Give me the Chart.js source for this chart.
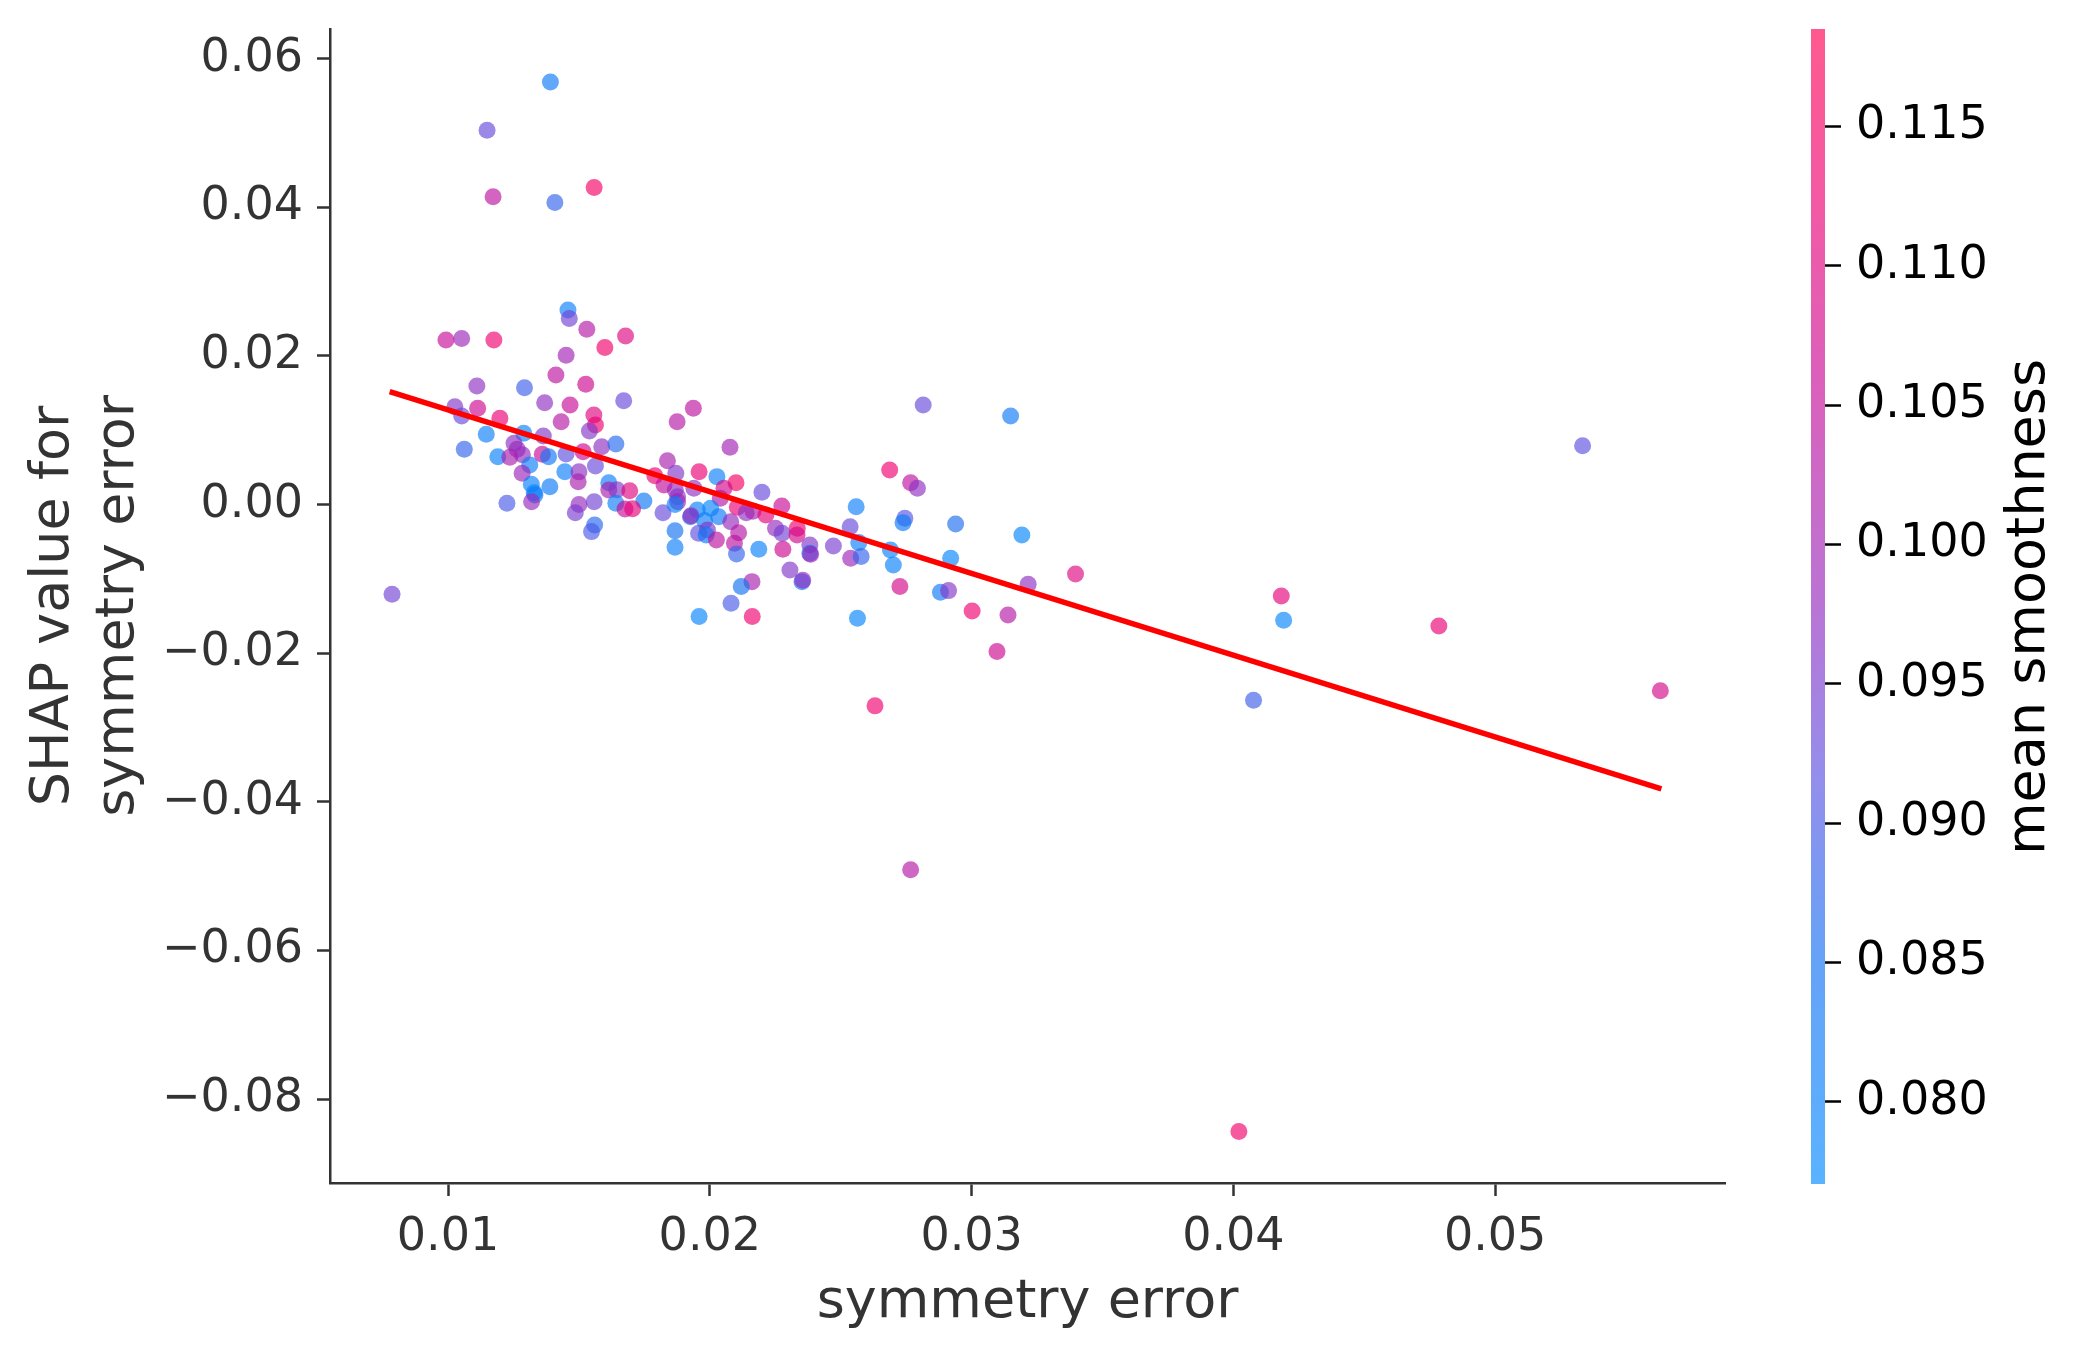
<!DOCTYPE html>
<html>
<head>
<meta charset="utf-8">
<script src="https://cdn.jsdelivr.net/npm/chart.js@4.4.1/dist/chart.umd.min.js"></script>
<style>
html, body { margin: 0; padding: 0; background: #fff; }
#wrap { position: relative; width: 2084px; height: 1357px; }
#main { position: absolute; left: 0; top: 0; }
#cbar { position: absolute; left: 1760px; top: 0; }
</style>
</head>
<body>
<div id="wrap">
  <canvas id="main" width="2084" height="1357"></canvas>
  <canvas id="cbar" width="324" height="1357"></canvas>
</div>
<script>
// symmetry error (feature value)
var symErr = [
  0.01458, 0.01463, 0.01530, 0.01678, 0.01599, 0.00992, 0.01052, 0.01175, 0.01451, 0.01412,
  0.01526, 0.01110, 0.01292, 0.01369, 0.01466, 0.01671, 0.01432, 0.01557, 0.01563, 0.01540,
  0.01026, 0.01052, 0.01113, 0.01198, 0.01146, 0.01289, 0.01364, 0.01062, 0.01190, 0.01252,
  0.01264, 0.01284, 0.01236, 0.01312, 0.01283, 0.01360, 0.01384, 0.01451, 0.01516, 0.01587,
  0.01641, 0.01446, 0.01500, 0.01497, 0.01563, 0.01318, 0.01389, 0.01329, 0.01332, 0.01319,
  0.01225, 0.01614, 0.01614, 0.01645, 0.01694, 0.01641, 0.01748, 0.01676, 0.01705, 0.01500,
  0.01486, 0.01558, 0.01560, 0.01548, 0.00786, 0.01838, 0.01790, 0.01870, 0.01825, 0.01868,
  0.01877, 0.01821, 0.01877, 0.01867, 0.01937, 0.01875, 0.02077, 0.01959, 0.02027, 0.02100,
  0.02054, 0.01939, 0.02040, 0.02199, 0.02105, 0.02139, 0.02165, 0.02214, 0.02275, 0.01952,
  0.02003, 0.01926, 0.01928, 0.01980, 0.02034, 0.01991, 0.01957, 0.01986, 0.01867, 0.01867,
  0.02025, 0.02080, 0.02110, 0.02094, 0.02102, 0.02187, 0.02251, 0.02276, 0.02279, 0.02334,
  0.02333, 0.02382, 0.02382, 0.02385, 0.02306, 0.02352, 0.02355, 0.02161, 0.02120, 0.02081,
  0.01959, 0.02162, 0.02472, 0.02536, 0.02559, 0.02569, 0.02538, 0.02578, 0.02564, 0.02687,
  0.02767, 0.02793, 0.02815, 0.02745, 0.02738, 0.02690, 0.02701, 0.02726, 0.02939, 0.02920,
  0.02881, 0.02912, 0.03002, 0.03139, 0.03097, 0.03149, 0.03192, 0.02631, 0.01391, 0.01149,
  0.01172, 0.01408, 0.01558, 0.05334, 0.03397, 0.03216, 0.04183, 0.04192, 0.04785, 0.04077,
  0.05631, 0.04021, 0.02767
];
// SHAP value for symmetry error
var shapVal = [
  0.02617, 0.02505, 0.02360, 0.02268, 0.02115, 0.02214, 0.02236, 0.02214, 0.02010, 0.01743,
  0.01618, 0.01595, 0.01572, 0.01370, 0.01340, 0.01398, 0.01115, 0.01205, 0.01071, 0.00990,
  0.01317, 0.01192, 0.01295, 0.01160, 0.00945, 0.00959, 0.00923, 0.00744, 0.00645, 0.00824,
  0.00744, 0.00670, 0.00636, 0.00533, 0.00421, 0.00676, 0.00645, 0.00680, 0.00712, 0.00779,
  0.00815, 0.00443, 0.00440, 0.00308, 0.00520, 0.00273, 0.00241, 0.00160, 0.00130, 0.00039,
  0.00017, 0.00295, 0.00196, 0.00200, 0.00187, 0.00017, 0.00048, -0.00059, -0.00055, 0.00000,
  -0.00109, 0.00039, -0.00274, -0.00364, -0.01207, 0.00590, 0.00389, 0.00421, 0.00264, 0.00196,
  0.00106, -0.00109, 0.00039, 0.00000, 0.01295, 0.01115, 0.00770, 0.00443, 0.00376, 0.00295,
  0.00220, 0.00220, 0.00085, 0.00165, -0.00036, -0.00109, -0.00090, -0.00140, -0.00020, -0.00073,
  -0.00050, -0.00163, -0.00150, -0.00216, -0.00163, -0.00342, -0.00386, -0.00409, -0.00351, -0.00575,
  -0.00476, -0.00230, -0.00378, -0.00521, -0.00664, -0.00601, -0.00319, -0.00386, -0.00601, -0.00319,
  -0.00409, -0.00543, -0.00655, -0.00670, -0.00880, -0.01037, -0.01020, -0.01037, -0.01104, -0.01328,
  -0.01507, -0.01507, -0.00557, -0.00297, -0.00028, -0.00512, -0.00722, -0.00700, -0.01530, 0.00465,
  0.00295, 0.00220, 0.01340, -0.00184, -0.00243, -0.00610, -0.00812, -0.01104, -0.00261, -0.00722,
  -0.01180, -0.01158, -0.01431, -0.01485, -0.01978, 0.01192, -0.00411, -0.02709, 0.05688, 0.05038,
  0.04141, 0.04066, 0.04267, 0.00793, -0.00933, -0.01072, -0.01229, -0.01557, -0.01633, -0.02632,
  -0.02507, -0.08438, -0.04915
];
// mean smoothness (colour)
var smooth = [
  0.081, 0.094, 0.103, 0.110, 0.114, 0.106, 0.099, 0.113, 0.100, 0.104,
  0.107, 0.097, 0.089, 0.097, 0.106, 0.093, 0.103, 0.110, 0.113, 0.096,
  0.096, 0.093, 0.107, 0.112, 0.081, 0.080, 0.096, 0.088, 0.080, 0.097,
  0.098, 0.098, 0.101, 0.081, 0.099, 0.106, 0.083, 0.092, 0.107, 0.097,
  0.087, 0.081, 0.097, 0.101, 0.093, 0.080, 0.082, 0.079, 0.082, 0.098,
  0.090, 0.081, 0.101, 0.096, 0.110, 0.081, 0.083, 0.106, 0.111, 0.098,
  0.095, 0.094, 0.087, 0.090, 0.094, 0.101, 0.112, 0.096, 0.105, 0.099,
  0.096, 0.093, 0.100, 0.081, 0.104, 0.103, 0.100, 0.112, 0.081, 0.115,
  0.108, 0.097, 0.103, 0.093, 0.112, 0.097, 0.101, 0.111, 0.106, 0.080,
  0.079, 0.082, 0.099, 0.081, 0.082, 0.096, 0.092, 0.083, 0.085, 0.081,
  0.104, 0.098, 0.103, 0.104, 0.088, 0.080, 0.098, 0.094, 0.107, 0.113,
  0.108, 0.096, 0.082, 0.100, 0.096, 0.081, 0.098, 0.101, 0.085, 0.090,
  0.079, 0.113, 0.095, 0.093, 0.081, 0.081, 0.099, 0.088, 0.079, 0.113,
  0.104, 0.097, 0.093, 0.091, 0.082, 0.080, 0.080, 0.108, 0.086, 0.079,
  0.082, 0.096, 0.113, 0.103, 0.107, 0.082, 0.079, 0.113, 0.082, 0.093,
  0.104, 0.088, 0.115, 0.092, 0.110, 0.097, 0.111, 0.079, 0.112, 0.089,
  0.108, 0.114, 0.103
];
// fitted trend line ends
var fitX = [0.00777, 0.05635];
var fitY = [0.01519, -0.03825];

var xTicks = [0.01, 0.02, 0.03, 0.04, 0.05];
var yTicks = [-0.08, -0.06, -0.04, -0.02, 0.00, 0.02, 0.04, 0.06];
var cTicks = [0.080, 0.085, 0.090, 0.095, 0.100, 0.105, 0.110, 0.115];

var cMin = 0.07705, cMax = 0.1185;

// shap-like red/blue map, drawn at alpha 0.65
var stops = [
  [0.00, [0, 138, 255]],
  [0.20, [20, 112, 242]],
  [0.35, [90, 82, 226]],
  [0.50, [148, 42, 190]],
  [0.70, [200, 10, 150]],
  [0.85, [236, 0, 115]],
  [1.00, [255, 0, 82]]
];
function cmap(t) {
  t = Math.max(0, Math.min(1, t));
  for (var i = 1; i < stops.length; i++) {
    if (t <= stops[i][0]) {
      var a = stops[i - 1], b = stops[i];
      var f = (t - a[0]) / (b[0] - a[0]);
      var c = a[1].map(function (v, k) { return Math.round(v + (b[1][k] - v) * f); });
      return 'rgba(' + c[0] + ',' + c[1] + ',' + c[2] + ',0.65)';
    }
  }
  return 'rgba(255,0,82,0.65)';
}

var points = symErr.map(function (x, i) { return { x: x, y: shapVal[i] }; });
var colors = smooth.map(function (c) { return cmap((c - cMin) / (cMax - cMin)); });
var fitLine = fitX.map(function (x, i) { return { x: x, y: fitY[i] }; });

var tickFont = { family: 'DejaVu Sans', size: 46 };
var labelFont = { family: 'DejaVu Sans', size: 54 };

function fmtY(v) {
  return (v < 0 ? '\u2212' : '') + Math.abs(v).toFixed(2);
}

// keep the plot box where it is, labels may overflow
function noPad(s) {
  s.paddingTop = 0;
  s.paddingBottom = 0;
  s.paddingLeft = 0;
  s.paddingRight = 0;
}

function onSight() {
  var ctx = document.getElementById('main').getContext('2d');
  var ctx2 = document.getElementById('cbar').getContext('2d');

  var mainChart = new Chart(ctx, {
    type: 'scatter',
    data: {
      datasets: [{
        type: 'line',
        data: fitLine,
        borderColor: '#ff0000',
        borderWidth: 5.5,
        pointRadius: 0,
        fill: false,
        order: 0
      }, {
        data: points,
        pointBackgroundColor: colors,
        pointBorderWidth: 0,
        pointRadius: 8.5,
        order: 1
      }]
    },
    options: {
      responsive: false,
      animation: false,
      devicePixelRatio: 1,
      layout: { padding: { left: 0, top: 29, right: 359, bottom: 0 } },
      plugins: { legend: { display: false }, tooltip: { enabled: false } },
      scales: {
        x: {
          type: 'linear',
          min: 0.00549,
          max: 0.05878,
          afterBuildTicks: function (s) { s.ticks = xTicks.map(function (v) { return { value: v }; }); },
          afterFit: function (s) { s.height = 174; noPad(s); },
          grid: { drawOnChartArea: false, drawTicks: true, tickLength: 13, tickWidth: 2.5, tickColor: '#333333' },
          border: { display: true, color: '#333333', width: 2.5 },
          ticks: {
            color: '#333333', font: tickFont, padding: 14, maxRotation: 0,
            callback: function (v) { return v.toFixed(2); }
          },
          title: {
            display: true, text: 'symmetry error', color: '#333333', font: labelFont,
            padding: { top: 0, bottom: 22 }
          }
        },
        y: {
          type: 'linear',
          min: -0.0913,
          max: 0.064,
          afterBuildTicks: function (s) { s.ticks = yTicks.map(function (v) { return { value: v }; }); },
          afterFit: function (s) { s.width = 330; noPad(s); },
          grid: { drawOnChartArea: false, drawTicks: true, tickLength: 13, tickWidth: 2.5, tickColor: '#333333' },
          border: { display: true, color: '#333333', width: 2.5 },
          ticks: { color: '#333333', font: tickFont, padding: 14, callback: fmtY },
          title: {
            display: true, text: ['SHAP value for', 'symmetry error'], color: '#333333', font: labelFont,
            padding: { top: 22, bottom: 0 }
          }
        }
      }
    }
  });

  var cbarLabel = {
    id: 'cbarLabel',
    afterDraw: function (chart) {
      var c = chart.ctx;
      c.save();
      c.translate(270, 607);
      c.rotate(-Math.PI / 2);
      c.font = '54px "DejaVu Sans"';
      c.fillStyle = '#000000';
      c.textAlign = 'center';
      c.textBaseline = 'middle';
      c.fillText('mean smoothness', 0, 0);
      c.restore();
    }
  };

  var colorBar = new Chart(ctx2, {
    type: 'bar',
    data: {
      labels: [''],
      datasets: [{
        data: [[cMin, cMax]],
        borderWidth: 0,
        barPercentage: 1,
        categoryPercentage: 1,
        backgroundColor: function (context) {
          var area = context.chart.chartArea;
          if (!area) return cmap(0.5);
          var g = context.chart.ctx.createLinearGradient(0, area.bottom, 0, area.top);
          for (var i = 0; i <= 40; i++) g.addColorStop(i / 40, cmap(i / 40));
          return g;
        }
      }]
    },
    options: {
      responsive: false,
      animation: false,
      devicePixelRatio: 1,
      layout: { padding: { left: 51, top: 29, right: 0, bottom: 173 } },
      plugins: { legend: { display: false }, tooltip: { enabled: false } },
      scales: {
        x: { display: false },
        y: {
          position: 'right',
          min: cMin,
          max: cMax,
          afterBuildTicks: function (s) { s.ticks = cTicks.map(function (v) { return { value: v }; }); },
          afterFit: function (s) { s.width = 259; noPad(s); },
          grid: { drawOnChartArea: false, drawTicks: true, tickLength: 16, tickWidth: 2.5, tickColor: '#000000' },
          border: { display: false },
          ticks: { color: '#000000', font: tickFont, padding: 15, callback: function (v) { return v.toFixed(3); } }
        }
      }
    },
    plugins: [cbarLabel]
  });
}

document.addEventListener('DOMContentLoaded', onSight);
</script>
</body>
</html>
